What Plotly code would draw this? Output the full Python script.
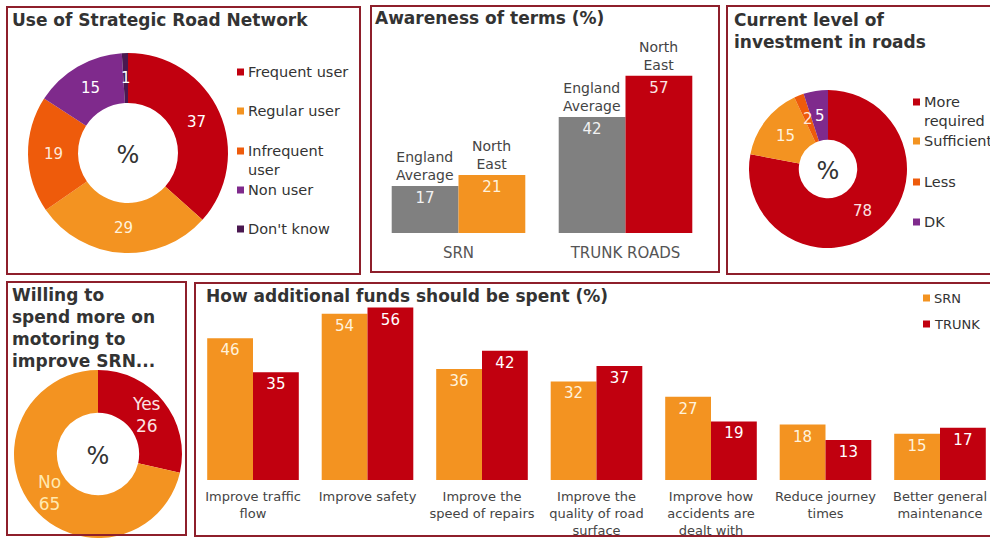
import math
import plotly.graph_objects as go

W, H = 990, 538
FONT = "DejaVu Sans"
INK = "#333333"

RED = "#C1000F"
ORANGE = "#F39321"
DORANGE = "#EE5B0B"
PURPLE = "#7F2A8C"
DPURPLE = "#4A1850"
GREY = "#808080"
BORDER = "#8E1F2B"

# --- data -------------------------------------------------------------
use_labels = ["Frequent user", "Regular user", "Infrequent user", "Non user", "Don't know"]
use_values = [37, 29, 19, 15, 1]
use_colors = [RED, ORANGE, DORANGE, PURPLE, DPURPLE]
use_legend = ["Frequent user", "Regular user", "Infrequent<br>user", "Non user", "Don't know"]

aware_cats = ["SRN", "TRUNK ROADS"]
aware_england = [17, 42]
aware_northeast = [21, 57]

invest_labels = ["More required", "Sufficient", "Less", "DK"]
invest_values = [78, 15, 2, 5]
invest_colors = [RED, ORANGE, DORANGE, PURPLE]
invest_legend = ["More<br>required", "Sufficient", "Less", "DK"]

willing_labels = ["Yes", "No"]
willing_values = [26, 65]

fund_cats = [
    "Improve traffic<br>flow",
    "Improve safety",
    "Improve the<br>speed of repairs",
    "Improve the<br>quality of road<br>surface",
    "Improve how<br>accidents are<br>dealt with",
    "Reduce journey<br>times",
    "Better general<br>maintenance",
]
fund_srn = [46, 54, 36, 32, 27, 18, 15]
fund_trunk = [35, 56, 42, 37, 19, 13, 17]


def px(x):
    return x / W


def py(y):
    return 1 - y / H


fig = go.Figure()
annotations = []
shapes = []


def donut(labels, values, colors, cx, cy, r, hole, texts, text_colors, size):
    """Clockwise donut from 12 o'clock; slice labels sit mid-ring at each slice's mid-angle."""
    fig.add_trace(go.Pie(
        labels=labels, values=values, hole=hole, sort=False,
        direction="clockwise", rotation=0,
        marker=dict(colors=colors, line=dict(width=0)),
        textinfo="none",
        domain=dict(x=[px(cx - r), px(cx + r)], y=[max(0, py(cy + r)), py(cy - r)]),
        title=dict(text="%", position="middle center", font=dict(size=24, color=INK)),
        showlegend=False, hoverinfo="label+value",
    ))
    total = sum(values)
    rm = r * (1 + hole) / 2
    acc = 0
    for v, t, c in zip(values, texts, text_colors):
        ang = 2 * math.pi * (acc + v / 2) / total
        acc += v
        annotations.append(dict(
            xref="paper", yref="paper",
            x=px(cx + rm * math.sin(ang)), y=py(cy - rm * math.cos(ang)),
            xanchor="center", yanchor="middle", showarrow=False, text=t,
            font=dict(family=FONT, size=size, color=c),
        ))


donut(use_labels, use_values, use_colors, 128, 153, 100, 0.5,
      [str(v) for v in use_values],
      ["#FFFFFF", "#FFF2DC", "#FFE8D8", "#FFFFFF", "#FFFFFF"], 15)
donut(invest_labels, invest_values, invest_colors, 828, 169, 79, 0.37,
      [str(v) for v in invest_values],
      ["#FBE3E3", "#FFF2DC", "#FFE8D8", "#FFFFFF"], 15)
donut(willing_labels, willing_values, [RED, ORANGE], 98, 454, 84, 0.49,
      [f"{l}<br>{v}" for l, v in zip(willing_labels, willing_values)],
      ["#FBE3E3", "#FFE9B0"], 17)

# --- bars: awareness of terms -----------------------------------------
fig.add_trace(go.Bar(
    x=aware_cats, y=aware_england, name="England Average",
    marker=dict(color=GREY, line=dict(width=0)),
    text=aware_england, textposition="inside", insidetextanchor="end",
    textfont=dict(size=15, color="#F2F2F2"),
    xaxis="x", yaxis="y", showlegend=False,
))
fig.add_trace(go.Bar(
    x=aware_cats, y=aware_northeast, name="North East",
    marker=dict(color=[ORANGE, RED], line=dict(width=0)),
    text=aware_northeast, textposition="inside", insidetextanchor="end",
    textfont=dict(size=15, color=["#FFF2DC", "#FBE3E3"]),
    xaxis="x", yaxis="y", showlegend=False,
))

# --- bars: how additional funds should be spent ------------------------
fig.add_trace(go.Bar(
    x=fund_cats, y=fund_srn, name="SRN",
    marker=dict(color=ORANGE, line=dict(width=0)),
    text=fund_srn, textposition="inside", insidetextanchor="end",
    textfont=dict(size=15, color="#FFF2DC"),
    xaxis="x2", yaxis="y2", showlegend=False,
))
fig.add_trace(go.Bar(
    x=fund_cats, y=fund_trunk, name="TRUNK",
    marker=dict(color=RED, line=dict(width=0)),
    text=fund_trunk, textposition="inside", insidetextanchor="end",
    textfont=dict(size=15, color="#FFFFFF"),
    xaxis="x2", yaxis="y2", showlegend=False,
))


def text_at(x, y, text, size, bold=False, color=INK):
    # y is the vertical centre of the first line, in pixels
    annotations.append(dict(
        xref="paper", yref="paper", x=px(x), y=py(y - size * 0.65 - 1),
        xanchor="left", yanchor="top", showarrow=False, align="left",
        text=f"<b>{text}</b>" if bold else text,
        font=dict(family=FONT, size=size, color=color),
    ))


def legend_block(x, ys, labels, colors, size):
    for yc, lab, col in zip(ys, labels, colors):
        shapes.append(dict(type="rect", xref="paper", yref="paper",
                           x0=px(x), x1=px(x + 7), y0=py(yc + 3.5), y1=py(yc - 3.5),
                           fillcolor=col, line=dict(width=0)))
        text_at(x + 9, yc, lab, size)


# titles
text_at(10, 20, "Use of Strategic Road Network", 17, bold=True)
text_at(373, 18, "Awareness of terms (%)", 17, bold=True)
text_at(732, 20, "Current level of<br>investment in roads", 17, bold=True)
text_at(10, 295, "Willing to<br>spend more on<br>motoring to<br>improve SRN...", 17, bold=True)
text_at(204, 296, "How additional funds should be spent (%)", 17, bold=True)

# legends
legend_block(237, [72, 111, 151, 190, 229], use_legend, use_colors, 14.5)
legend_block(913, [102, 141, 182, 222], invest_legend, invest_colors, 14.5)
legend_block(923, [298, 324], ["SRN", "TRUNK"], [ORANGE, RED], 13)

# series labels above the awareness bars
bar_half = 167 * 0.8 / 4
for cat, v in zip(aware_cats, aware_england):
    annotations.append(dict(xref="x", yref="y", x=cat, y=v, xshift=-bar_half, yshift=1,
                            yanchor="bottom", showarrow=False, text="England<br>Average",
                            font=dict(family=FONT, size=14, color="#444444")))
for cat, v in zip(aware_cats, aware_northeast):
    annotations.append(dict(xref="x", yref="y", x=cat, y=v, xshift=bar_half, yshift=1,
                            yanchor="bottom", showarrow=False, text="North<br>East",
                            font=dict(family=FONT, size=14, color="#444444")))

# panel frames
for x0, y0, x1, y1 in [(7, 7, 360, 274), (371, 6, 719, 272), (727, 6, 1000, 274),
                       (7, 282, 186, 535), (195, 283, 1000, 536)]:
    shapes.append(dict(type="rect", xref="paper", yref="paper", layer="above",
                       x0=px(x0), x1=px(x1), y0=py(y1), y1=py(y0),
                       line=dict(color=BORDER, width=2), fillcolor="rgba(0,0,0,0)"))

axis_common = dict(showgrid=False, zeroline=False, showline=False, ticks="",
                   fixedrange=True)

fig.update_layout(
    width=W, height=H, margin=dict(l=0, r=0, t=0, b=0),
    paper_bgcolor="white", plot_bgcolor="white",
    font=dict(family=FONT, color=INK),
    barmode="group", bargap=0.2, bargroupgap=0,
    xaxis=dict(domain=[px(375), px(709)], tickfont=dict(size=15, color="#555555"),
               ticklabelstandoff=9, **axis_common),
    yaxis=dict(domain=[py(233), py(233 - 60 * 2.76)], range=[0, 60],
               showticklabels=False, **axis_common),
    xaxis2=dict(domain=[px(195.75), 1], range=[-0.5, 6 + (990 - 940) / 114.5],
                tickfont=dict(size=13, color="#444444"), ticklabelstandoff=7,
                anchor="y2", **axis_common),
    yaxis2=dict(domain=[py(480), py(480 - 60 * 3.08)], range=[0, 60],
                showticklabels=False, anchor="x2", **axis_common),
    annotations=annotations, shapes=shapes,
)

fig.write_html("out.html")
